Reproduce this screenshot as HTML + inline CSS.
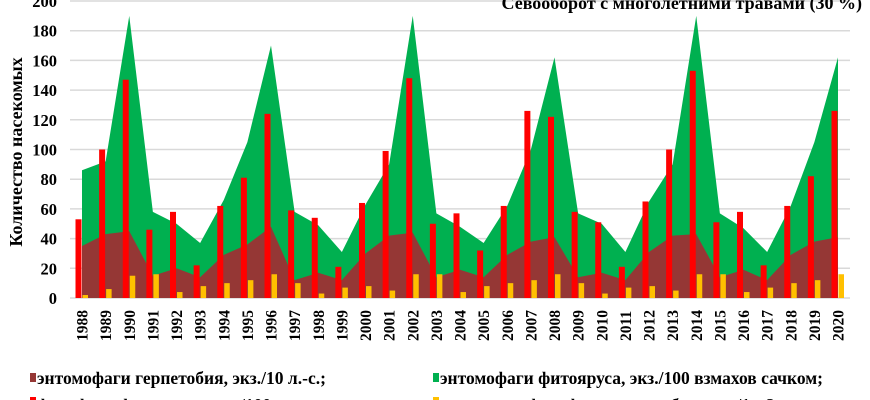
<!DOCTYPE html>
<html><head><meta charset="utf-8"><style>
body{margin:0;background:#fff}
svg{display:block;font-family:"Liberation Serif",serif;font-weight:bold}
</style></head><body>
<svg id="s" width="870" height="400" xmlns="http://www.w3.org/2000/svg"></svg>
<script>
const brown=[35,43,45,15,20,14,29,36,48,12,17,12,30,42,44,14,19,14,29,38,41,14,17,12,31,42,43,14,19,12,29,38,41];
const total=[86,92,190,58,50,37,66,105,170,58,49,31,63,90,190,57,48,37,62,100,162,57,50,31,65,90,190,57,47,31,62,105,162];
const red=[53,100,147,46,58,22,62,81,124,59,54,21,64,99,148,50,57,32,62,126,122,58,51,21,65,100,153,51,58,22,62,82,126];
const yel=[2,6,15,16,4,8,10,12,16,10,3,7,8,5,16,16,4,8,10,12,16,10,3,7,8,5,16,16,4,7,10,12,16];
const Y=v=>298-v*1.485, X=i=>82+i*23.625;
let h='';
for(let v=0;v<=200;v+=20){h+=`<line x1="70" x2="850" y1="${Y(v)}" y2="${Y(v)}" stroke="#d9d9d9" stroke-width="1.5"/>`;
h+=`<text x="57" y="${Y(v)+6}" font-size="16.5" text-anchor="end">${v}</text>`;}
let pg='M'+X(0)+','+Y(0);total.forEach((v,i)=>pg+=' L'+X(i)+','+Y(v));pg+=' L'+X(32)+','+Y(0)+'Z';
h+=`<path d="${pg}" fill="#00b050"/>`;
let pb='M'+X(0)+','+Y(0);brown.forEach((v,i)=>pb+=' L'+X(i)+','+Y(v));pb+=' L'+X(32)+','+Y(0)+'Z';
h+=`<path d="${pb}" fill="#953735"/>`;
for(let i=0;i<33;i++){const c=X(i);
h+=`<rect x="${c-6.5}" y="${Y(red[i])}" width="6" height="${red[i]*1.485}" fill="#ff0000"/>`;
h+=`<rect x="${c+0.5}" y="${Y(yel[i])}" width="5.5" height="${yel[i]*1.485}" fill="#ffc000"/>`;
h+=`<text transform="translate(${c+5.5},341) rotate(-90)" font-size="15.5">${1988+i}</text>`;}
h+=`<text transform="translate(22,152) rotate(-90)" font-size="18" text-anchor="middle">Количество насекомых</text>`;
h+=`<text x="862" y="9" font-size="18" text-anchor="end">Севооборот с многолетними травами (30 %)</text>`;
h+=`<rect x="30" y="373" width="6" height="9" fill="#953735"/><text x="37" y="384" font-size="17.5">энтомофаги герпетобия, экз./10 л.-с.;</text>`;
h+=`<rect x="433" y="373" width="6" height="9" fill="#00b050"/><text x="440" y="384" font-size="17.5">энтомофаги фитояруса, экз./100 взмахов сачком;</text>`;
h+=`<rect x="30" y="397" width="6" height="9" fill="#ff0000"/><text x="37" y="411" font-size="17.5">фитофаги фитояруса, экз./100 взмахов сачком;</text>`;
h+=`<rect x="433" y="397" width="6" height="9" fill="#ffc000"/><text x="440" y="411" font-size="17.5">вредители-фитофаги герпетобия, экз./1 м2</text>`;
document.getElementById('s').innerHTML=h;
</script>
</body></html>
